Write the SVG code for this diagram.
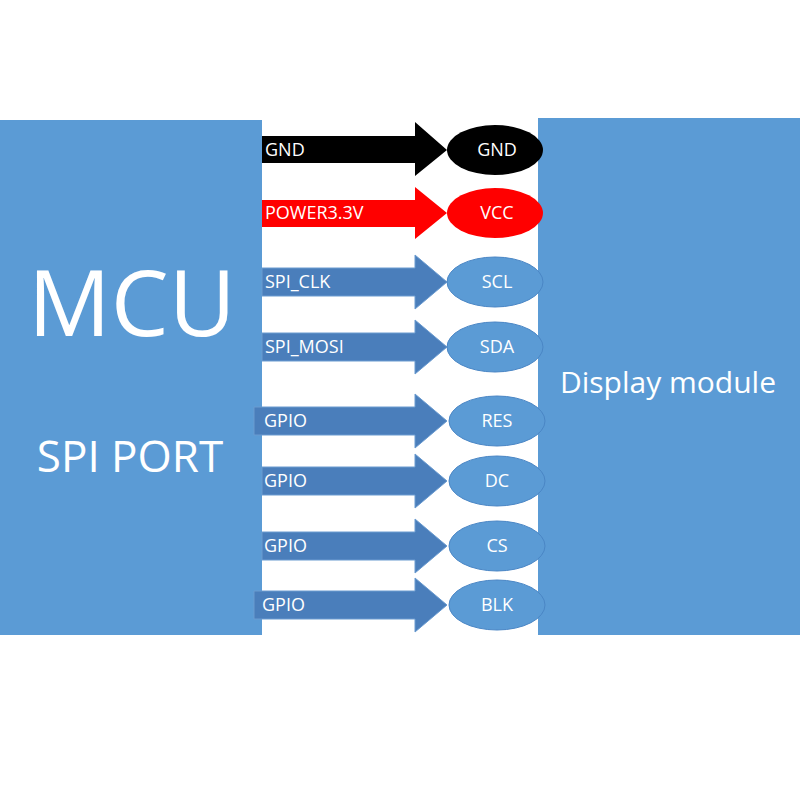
<svg xmlns="http://www.w3.org/2000/svg" width="800" height="800" viewBox="0 0 800 800">
<style>
text{font-family:"Open Sans","Liberation Sans",sans-serif;fill:#fff}
.lbl{font-size:18px}
.pin{font-size:18px;text-anchor:middle}
.blue{fill:#4a7ebb;stroke:#6a9bd0;stroke-width:1}
.ell{fill:#5b9bd5;stroke:#4a86c5;stroke-width:1}
</style>
<rect width="800" height="800" fill="#fff"/>
<g id="mcu"><rect x="0" y="120" width="262" height="515" fill="#5b9bd5"/>
<text x="132" y="336" font-size="92" text-anchor="middle">MCU</text>
<text x="130" y="472" font-size="44" text-anchor="middle">SPI PORT</text></g>
<g id="display"><rect x="538" y="118" width="262" height="517" fill="#5b9bd5"/>
<text x="668" y="393" font-size="30" text-anchor="middle">Display module</text></g>
<g id="connectors">
<path d="M262,136H415V122L447,150L415,176V163H262Z" fill="#000"/>
<path d="M262,200H415V187L447,213L415,239V227H262Z" fill="#f00"/>
<path class="blue" d="M262,268H415V255L447,282L415,309V296H262Z"/>
<path class="blue" d="M262,333H415V320L447,347L415,374V361H262Z"/>
<path class="blue" d="M254,407H415V394L447,421L415,448V435H254Z"/>
<path class="blue" d="M262,467H415V454L447,481L415,508V495H262Z"/>
<path class="blue" d="M262,532H415V519L447,546L415,573V560H262Z"/>
<path class="blue" d="M254,591H415V578L447,605L415,632V619H254Z"/>
<text class="lbl" x="265" y="156">GND</text>
<text class="lbl" x="265" y="219">POWER3.3V</text>
<text class="lbl" x="265" y="288">SPI_CLK</text>
<text class="lbl" x="265" y="353">SPI_MOSI</text>
<text class="lbl" x="264" y="427">GPIO</text>
<text class="lbl" x="264" y="487">GPIO</text>
<text class="lbl" x="264" y="552">GPIO</text>
<text class="lbl" x="262" y="611">GPIO</text>
</g>
<g id="pin-gnd"><ellipse cx="495" cy="150" rx="48" ry="25" fill="#000"/><text class="pin" x="497" y="156">GND</text></g>
<g id="pin-vcc"><ellipse cx="495" cy="213" rx="48" ry="25" fill="#f00"/><text class="pin" x="497" y="219">VCC</text></g>
<g id="pin-scl"><ellipse class="ell" cx="495" cy="282" rx="48" ry="25"/><text class="pin" x="497" y="288">SCL</text></g>
<g id="pin-sda"><ellipse class="ell" cx="495" cy="347" rx="48" ry="25"/><text class="pin" x="497" y="353">SDA</text></g>
<g id="pin-res"><ellipse class="ell" cx="497" cy="421" rx="48" ry="25"/><text class="pin" x="497" y="427">RES</text></g>
<g id="pin-dc"><ellipse class="ell" cx="497" cy="481" rx="48" ry="25"/><text class="pin" x="497" y="487">DC</text></g>
<g id="pin-cs"><ellipse class="ell" cx="497" cy="546" rx="48" ry="25"/><text class="pin" x="497" y="552">CS</text></g>
<g id="pin-blk"><ellipse class="ell" cx="497" cy="605" rx="48" ry="25"/><text class="pin" x="497" y="611">BLK</text></g>
</svg>
